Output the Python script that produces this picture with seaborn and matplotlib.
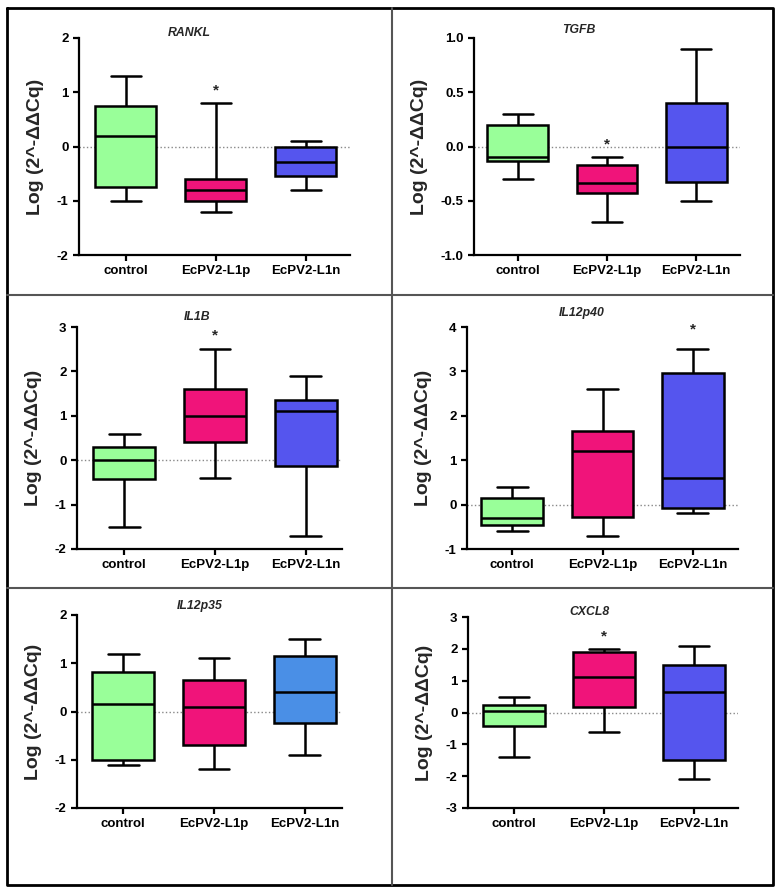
import numpy as np
import pandas as pd
import seaborn as sns
import matplotlib.pyplot as plt
from matplotlib.lines import Line2D

# five-number summaries (min, q1, median, q3, max)
groups = ["control", "EcPV2-L1p", "EcPV2-L1n"]
genes = ["RANKL", "TGFB", "IL1B", "IL12p40", "IL12p35", "CXCL8"]

rankl_control = [-1.0, -0.75, 0.2, 0.74, 1.3]
rankl_l1p = [-1.2, -1.0, -0.81, -0.6, 0.8]
rankl_l1n = [-0.8, -0.55, -0.28, 0.0, 0.1]

tgfb_control = [-0.3, -0.13, -0.1, 0.2, 0.3]
tgfb_l1p = [-0.7, -0.43, -0.34, -0.17, -0.1]
tgfb_l1n = [-0.5, -0.33, 0.0, 0.4, 0.9]

il1b_control = [-1.5, -0.43, 0.0, 0.3, 0.6]
il1b_l1p = [-0.4, 0.4, 1.0, 1.6, 2.5]
il1b_l1n = [-1.7, -0.13, 1.1, 1.36, 1.9]

il12p40_control = [-0.6, -0.46, -0.3, 0.14, 0.4]
il12p40_l1p = [-0.7, -0.28, 1.2, 1.66, 2.6]
il12p40_l1n = [-0.2, -0.07, 0.6, 2.96, 3.5]

il12p35_control = [-1.1, -1.0, 0.15, 0.82, 1.2]
il12p35_l1p = [-1.2, -0.7, 0.1, 0.65, 1.1]
il12p35_l1n = [-0.9, -0.24, 0.4, 1.16, 1.5]

cxcl8_control = [-1.4, -0.42, 0.05, 0.24, 0.5]
cxcl8_l1p = [-0.6, 0.18, 1.1, 1.9, 2.0]
cxcl8_l1n = [-2.1, -1.5, 0.64, 1.5, 2.1]

summaries = {
    "RANKL": [rankl_control, rankl_l1p, rankl_l1n],
    "TGFB": [tgfb_control, tgfb_l1p, tgfb_l1n],
    "IL1B": [il1b_control, il1b_l1p, il1b_l1n],
    "IL12p40": [il12p40_control, il12p40_l1p, il12p40_l1n],
    "IL12p35": [il12p35_control, il12p35_l1p, il12p35_l1n],
    "CXCL8": [cxcl8_control, cxcl8_l1p, cxcl8_l1n],
}

# significance stars: (group, y)
stars = {
    "RANKL": ("EcPV2-L1p", 1.04),
    "TGFB": ("EcPV2-L1p", 0.02),
    "IL1B": ("EcPV2-L1p", 2.8),
    "IL12p40": ("EcPV2-L1n", 3.94),
    "CXCL8": ("EcPV2-L1p", 2.38),
}

yticks = {
    "RANKL": [-2, -1, 0, 1, 2],
    "TGFB": [-1.0, -0.5, 0.0, 0.5, 1.0],
    "IL1B": [-2, -1, 0, 1, 2, 3],
    "IL12p40": [-1, 0, 1, 2, 3, 4],
    "IL12p35": [-2, -1, 0, 1, 2],
    "CXCL8": [-3, -2, -1, 0, 1, 2, 3],
}

rows = []
for g in genes:
    for grp, vals in zip(groups, summaries[g]):
        for v in vals:
            rows.append({"gene": g, "group": grp, "value": v})
df = pd.DataFrame(rows)

green = "#99FF99"
pink = "#F0147A"
blue = "#5555EE"
lightblue = "#4A8FE6"

W, H = 780, 894
# pixel layout: left, top, right, bottom, xlim, title x/y
layout = {
    "RANKL": (79, 38, 350, 255, (-0.52, 2.49), 189, 33),
    "TGFB": (474, 38, 740, 255, (-0.49, 2.49), 579, 30),
    "IL1B": (77, 327, 342, 549, (-0.52, 2.40), 197, 317),
    "IL12p40": (467, 327, 738, 549, (-0.50, 2.50), 582, 313),
    "IL12p35": (77, 615, 342, 808, (-0.51, 2.41), 200, 606),
    "CXCL8": (468, 617, 738, 808, (-0.51, 2.49), 590, 612),
}

sns.set_style("white")
plt.rcParams["font.family"] = ["Liberation Sans", "DejaVu Sans"]
plt.rcParams["axes.unicode_minus"] = False

fig = plt.figure(figsize=(W / 100, H / 100), dpi=100)

for g in genes:
    l, t, r, b, xlim, tx, ty = layout[g]
    ax = fig.add_axes([l / W, 1 - b / H, (r - l) / W, (b - t) / H])
    pal = [green, pink, lightblue if g == "IL12p35" else blue]
    sub = df[df["gene"] == g]
    ax.axhline(0, color="#888888", ls=":", lw=1, zorder=0)
    sns.boxplot(data=sub, x="group", y="value", hue="group", order=groups,
                hue_order=groups, palette=pal, saturation=1, whis=(0, 100),
                width=0.68, linewidth=1.8, linecolor="black", legend=False, ax=ax)
    ax.set_xlim(*xlim)
    yt = yticks[g]
    ax.set_ylim(yt[0], yt[-1])
    ax.set_yticks(yt)
    if g == "TGFB":
        ax.set_yticklabels([f"{v:.1f}" for v in yt])
    ax.set_xlabel("")
    ax.set_ylabel("Log (2^-ΔΔCq)", fontsize=14, fontweight="bold", labelpad=9)
    for side in ["top", "right"]:
        ax.spines[side].set_visible(False)
    for side in ["left", "bottom"]:
        ax.spines[side].set_linewidth(1.6)
        ax.spines[side].set_color("black")
    ax.tick_params(axis="both", direction="out", length=4, width=1.6,
                   labelsize=9.5, colors="black", left=True, bottom=True)
    for lab in ax.get_xticklabels() + ax.get_yticklabels():
        lab.set_fontweight("bold")
    if g in stars:
        grp, yv = stars[g]
        ax.text(groups.index(grp), yv, "*", ha="center", va="center",
                fontsize=11, fontweight="bold")
    fig.text(tx / W, 1 - ty / H, g, ha="center", va="center", fontsize=8.8,
             fontweight="bold", fontstyle="italic")

# panel frame
x0, x1, xm = 7 / W, 773 / W, 392 / W
y0, y1 = 1 - 8 / H, 1 - 885 / H
fig.add_artist(Line2D([x0, x1, x1, x0, x0], [y0, y0, y1, y1, y0], color="black", lw=2))
fig.add_artist(Line2D([xm, xm], [y0, y1], color="#555555", lw=1.5))
for yy in [295, 588]:
    fig.add_artist(Line2D([x0, x1], [1 - yy / H, 1 - yy / H], color="#555555", lw=1.5))

fig.savefig("out.png", dpi=100)
